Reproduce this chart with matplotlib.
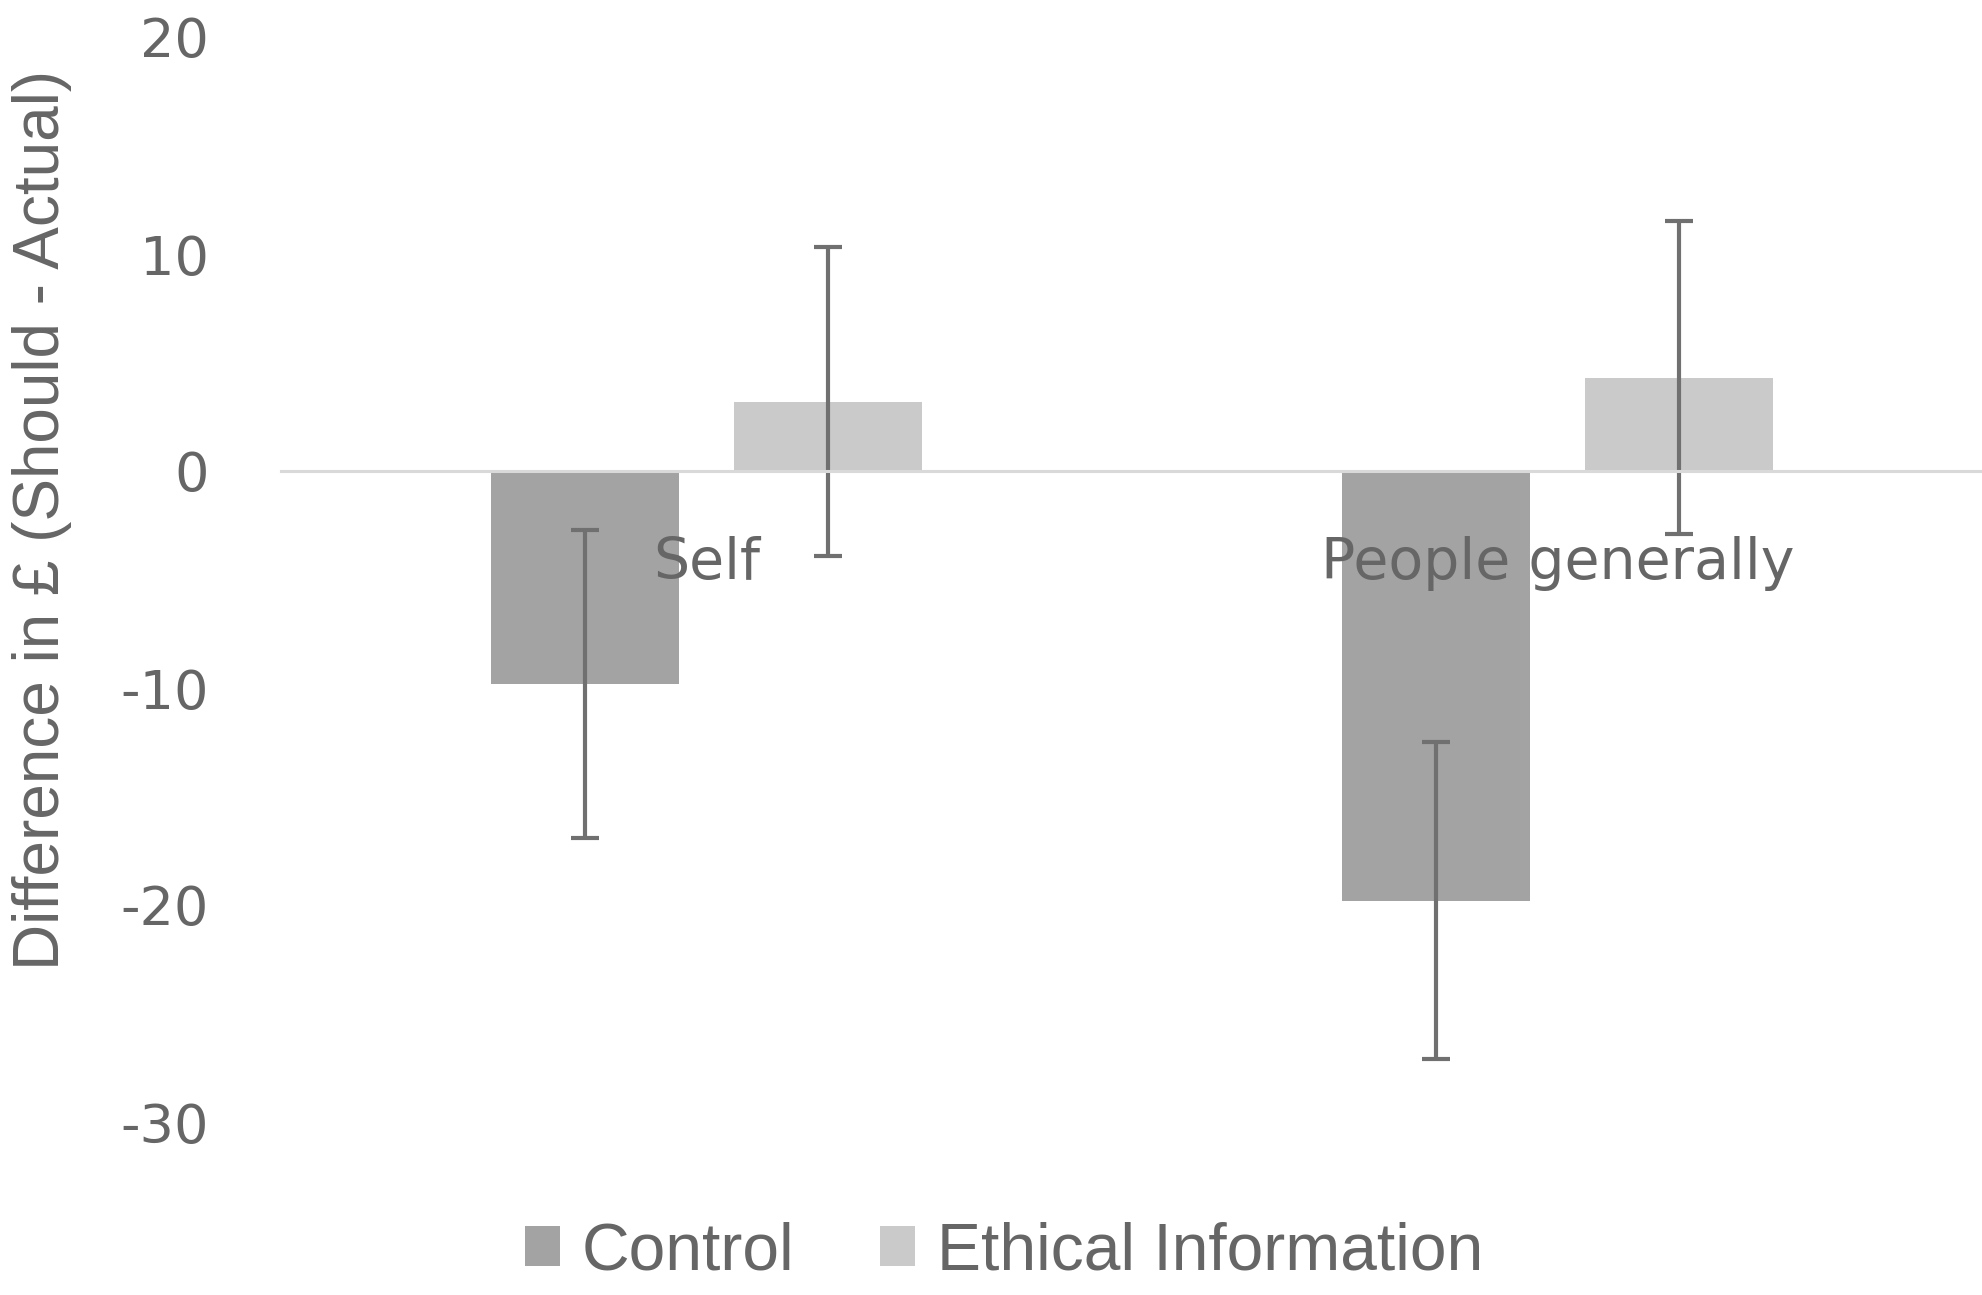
import matplotlib
matplotlib.use("Agg")
import matplotlib.pyplot as plt
import numpy as np

# data
categories = ["Self", "People generally"]
series_names = ["Control", "Ethical Information"]
control_vals = [-9.8, -19.8]
control_err = [7.1, 7.3]
ethical_vals = [3.2, 4.3]
ethical_err = [7.1, 7.2]
y_ticks = [-30, -20, -10, 0, 10, 20]

plt.rcParams['axes.unicode_minus'] = False
text_color = '#666666'

fig = plt.figure(figsize=(19.83, 12.95), dpi=100)
ax = fig.add_axes([281 / 1983, 1 - 1122 / 1295, 1 - 281 / 1983, (1122 - 37) / 1295])

x = np.arange(len(categories))
width = 0.221
offset = 0.1427
err_kw = dict(ecolor='#707070', elinewidth=3.0, capsize=10, capthick=3.0)

ax.bar(x - offset, control_vals, width, color='#a3a3a3', label=series_names[0],
       yerr=control_err, error_kw=err_kw)
ax.bar(x + offset, ethical_vals, width, color='#cacaca', label=series_names[1],
       yerr=ethical_err, error_kw=err_kw)

# zero line is the bottom spine moved to y=0 (do this before styling ticks)
for side in ['top', 'right', 'left']:
    ax.spines[side].set_visible(False)
ax.spines['bottom'].set_position(('data', 0))
ax.spines['bottom'].set_color('#d9d9d9')
ax.spines['bottom'].set_linewidth(2.2)

ax.set_xlim(-0.5, len(categories) - 0.5)
ax.set_ylim(-30, 20)
ax.set_yticks(y_ticks)
ax.set_xticks(x)
ax.set_xticklabels(categories, fontsize=41, color=text_color, family='DejaVu Sans')
ax.tick_params(axis='x', length=0, pad=47)
ax.tick_params(axis='y', length=0, pad=52, labelsize=39, labelcolor=text_color)

fig.text(42 / 1983, 1 - 520 / 1295, "Difference in £ (Should - Actual)", rotation=90,
         ha='center', va='center', fontsize=46, color=text_color, family='Liberation Sans')

fig.legend(loc='center', bbox_to_anchor=(1004 / 1983, 1 - 1252 / 1295), ncol=2,
           frameon=False, prop={'family': 'Liberation Sans', 'size': 47.5},
           labelcolor=text_color, handlelength=0.53, handleheight=0.55,
           handletextpad=0.33, columnspacing=1.3, borderpad=0)

plt.savefig("out.png", dpi=100)
plt.close()
